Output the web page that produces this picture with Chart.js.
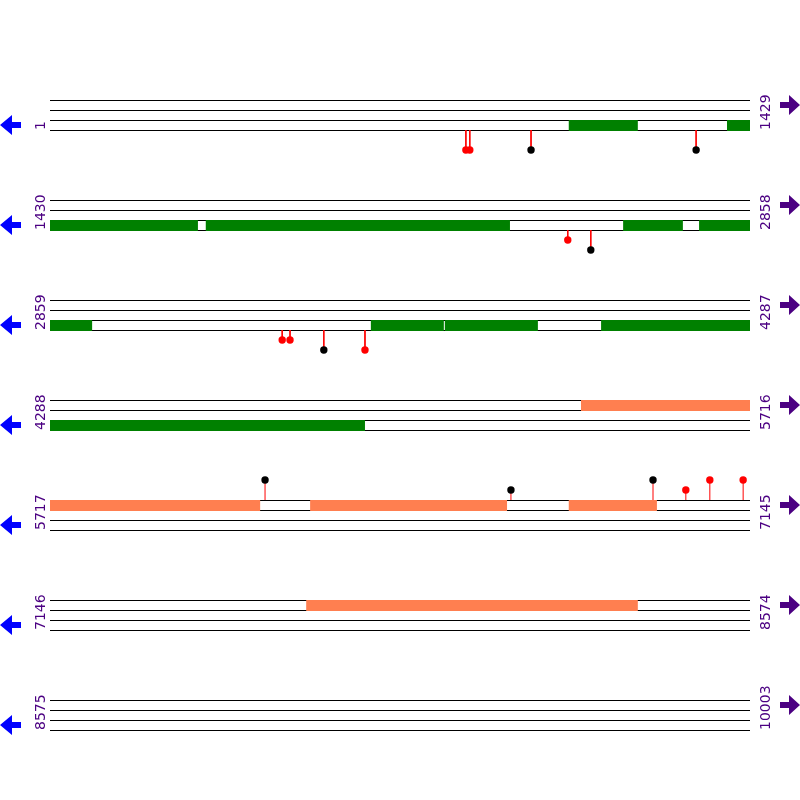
<!DOCTYPE html>
<html>
<head>
<meta charset="utf-8">
<script src="https://cdn.jsdelivr.net/npm/chart.js@4.4.1/dist/chart.umd.min.js"></script>
<style>
  html, body { margin: 0; padding: 0; background: #fff; }
  #wrap { width: 800px; height: 800px; }
</style>
</head>
<body>
<div id="wrap"><canvas id="map"></canvas></div>
<script>
// each row shows 1429 bp
const rowStarts = [1, 1430, 2859, 4288, 5717, 7146, 8575];
const rowEnds = [1429, 2858, 4287, 5716, 7145, 8574, 10003];
const rowLen = 1429;

// features on track 2 (green) and track 0 (coral), absolute bp
const greenStarts = [1060, 1383, 1748, 2600, 2755, 3514, 3665, 3984];
const greenEnds = [1201, 1732, 2369, 2722, 2945, 3663, 3855, 4931];
const coralStarts = [5372, 6248, 6776, 7669];
const coralEnds = [6146, 6650, 6956, 8346];

// lollipop sites: position, height (1 or 2 steps), colour, side
const sitePos = [850, 858, 983, 1320, 2487, 2534, 3333, 3349, 3418, 3502, 6156, 6658, 6948, 7015, 7064, 7132];
const siteLevel = [2, 2, 2, 2, 1, 2, 1, 1, 2, 2, 2, 1, 2, 1, 2, 2];
const siteColor = ['red', 'red', 'black', 'black', 'red', 'black', 'red', 'red', 'black', 'red',
                   'black', 'black', 'black', 'red', 'red', 'red'];
const siteSide = ['below', 'below', 'below', 'below', 'below', 'below', 'below', 'below', 'below', 'below',
                  'above', 'above', 'above', 'above', 'above', 'above'];

const GREEN = '#008000';
const CORAL = '#FF7F50';
const LABEL = '#4B0082';

function rowBase(r) { return 100 + r * 100; }

let datasets = [];

// track lines, 4 per row
for (let r = 0; r < rowStarts.length; r++) {
    for (let i = 0; i < 4; i++) {
        let y = rowBase(r) + i * 10 + 0.5;
        datasets.push({
            type: 'line',
            data: [{ x: 0, y: y }, { x: rowLen, y: y }],
            borderColor: '#000',
            borderWidth: 1,
            pointRadius: 0,
            order: 3
        });
    }
}

// split a feature across the rows it crosses
function addBlocks(starts, ends, track, color) {
    for (let k = 0; k < starts.length; k++) {
        for (let r = 0; r < rowStarts.length; r++) {
            let s = Math.max(starts[k], rowStarts[r]);
            let e = Math.min(ends[k], rowEnds[r] + 1);
            if (e <= s) continue;
            let y = rowBase(r) + track * 10 + 5.5;
            datasets.push({
                type: 'line',
                data: [{ x: s - rowStarts[r], y: y }, { x: e - rowStarts[r], y: y }],
                borderColor: color,
                borderWidth: 11,
                borderCapStyle: 'butt',
                pointRadius: 0,
                order: 2
            });
        }
    }
}
addBlocks(greenStarts, greenEnds, 2, GREEN);
addBlocks(coralStarts, coralEnds, 0, CORAL);

for (let k = 0; k < sitePos.length; k++) {
    let r = rowStarts.findIndex((s, i) => sitePos[k] >= s && sitePos[k] <= rowEnds[i]);
    let x = sitePos[k] - rowStarts[r];
    let y0, y1;
    if (siteSide[k] === 'below') {
        y0 = rowBase(r) + 30;
        y1 = y0 + siteLevel[k] * 10;
    } else {
        y0 = rowBase(r);
        y1 = y0 - siteLevel[k] * 10;
    }
    datasets.push({
        type: 'line',
        data: [{ x: x, y: y0 }, { x: x, y: y1 }],
        borderColor: 'red',
        borderWidth: 1,
        pointRadius: (c) => c.dataIndex === 1 ? 3.7 : 0,
        pointBackgroundColor: siteColor[k],
        pointBorderColor: siteColor[k],
        pointBorderWidth: 0,
        order: 1
    });
}

// arrows and row coordinates outside the plot area
const sidePlugin = {
    id: 'sides',
    afterDraw(chart) {
        const ctx = chart.ctx;
        ctx.save();
        for (let r = 0; r < rowStarts.length; r++) {
            let b = rowBase(r);

            ctx.fillStyle = '#0000FF';
            ctx.beginPath();
            ctx.moveTo(0, b + 25);
            ctx.lineTo(12, b + 15);
            ctx.lineTo(12, b + 22);
            ctx.lineTo(21, b + 22);
            ctx.lineTo(21, b + 28);
            ctx.lineTo(12, b + 28);
            ctx.lineTo(12, b + 35);
            ctx.closePath();
            ctx.fill();

            ctx.fillStyle = LABEL;
            ctx.beginPath();
            ctx.moveTo(800, b + 5);
            ctx.lineTo(789, b - 5);
            ctx.lineTo(789, b + 2);
            ctx.lineTo(780, b + 2);
            ctx.lineTo(780, b + 8);
            ctx.lineTo(789, b + 8);
            ctx.lineTo(789, b + 15);
            ctx.closePath();
            ctx.fill();

            ctx.font = '14px "DejaVu Sans"';
            ctx.textAlign = 'left';
            ctx.textBaseline = 'middle';

            ctx.save();
            ctx.translate(41, b + 30);
            ctx.rotate(-Math.PI / 2);
            ctx.fillText(String(rowStarts[r]), 0, 0);
            ctx.restore();

            ctx.save();
            ctx.translate(766, b + 30);
            ctx.rotate(-Math.PI / 2);
            ctx.fillText(String(rowEnds[r]), 0, 0);
            ctx.restore();
        }
        ctx.restore();
    }
};

new Chart(document.getElementById('map'), {
    type: 'scatter',
    data: { datasets: datasets },
    options: {
        responsive: true,
        maintainAspectRatio: false,
        animation: false,
        events: [],
        layout: { autoPadding: false, padding: { left: 50, right: 50, top: 0, bottom: 0 } },
        datasets: { line: { clip: false } },
        plugins: { legend: { display: false }, tooltip: { enabled: false } },
        scales: {
            x: { type: 'linear', min: 0, max: rowLen, display: false },
            y: { type: 'linear', min: 0, max: 800, reverse: true, display: false }
        }
    },
    plugins: [sidePlugin]
});
</script>
</body>
</html>
